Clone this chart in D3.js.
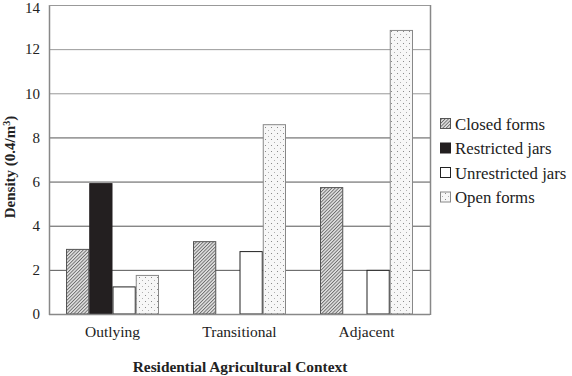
<!DOCTYPE html>
<html><head><meta charset="utf-8">
<script src="https://cdn.jsdelivr.net/npm/d3@7"></script>
<style>body{margin:0;background:#fff}svg{display:block;font-family:"Liberation Serif","DejaVu Serif",serif}</style>
</head><body>
<svg id="c" width="572" height="376"></svg>
<script>
const categories = ["Outlying", "Transitional", "Adjacent"];
const seriesNames = ["Closed forms", "Restricted jars", "Unrestricted jars", "Open forms"];
const closedForms = [2.95, 3.3, 5.75];
const restrictedJars = [5.93, 0, 0];
const unrestrictedJars = [1.25, 2.85, 2.0];
const openForms = [1.77, 8.6, 12.87];
const yTicks = [0, 2, 4, 6, 8, 10, 12, 14];
const seriesValues = [closedForms, restrictedJars, unrestrictedJars, openForms];

const svg = d3.select("#c");
const m = {l: 49, r: 430, t: 5, b: 314};
const defs = svg.append("defs");
const hatch = defs.append("pattern").attr("id","hatch").attr("patternUnits","userSpaceOnUse")
  .attr("width",2.4).attr("height",2.4).attr("patternTransform","rotate(45)");
hatch.append("rect").attr("width",2.4).attr("height",2.4).attr("fill","#e2e2e2");
hatch.append("rect").attr("width",0.9).attr("height",2.4).attr("fill","#6a6a6a");
const dots = defs.append("pattern").attr("id","dots").attr("patternUnits","userSpaceOnUse")
  .attr("width",6).attr("height",6);
dots.append("rect").attr("width",6).attr("height",6).attr("fill","#f7f7f7");
dots.append("rect").attr("x",1).attr("y",1).attr("width",1).attr("height",1).attr("fill","#8a8a8a");
dots.append("rect").attr("x",4).attr("y",4).attr("width",1).attr("height",1).attr("fill","#b0b0b0");

const fills = ["url(#hatch)", "#231f20", "#fff", "url(#dots)"];
const strokes = ["#555", "#231f20", "#222", "#888"];

const x0 = d3.scaleBand().domain(categories).range([m.l, m.r]).paddingInner(0).paddingOuter(0);
const x1 = d3.scaleBand().domain(seriesNames).range([17, x0.bandwidth()-17]);
const y = d3.scaleLinear().domain([0, 14]).range([m.b, m.t]);

// gridlines
svg.append("g").selectAll("line").data(yTicks.filter(d=>d>0)).join("line")
  .attr("x1", m.l).attr("x2", m.r).attr("y1", d=>y(d)+0.5).attr("y2", d=>y(d)+0.5)
  .attr("stroke", d=>d>=10?"#999":"#555").attr("stroke-width",1);

// bars
const g = svg.append("g");
categories.forEach((c, i) => {
  seriesNames.forEach((s, j) => {
    const v = seriesValues[j][i];
    if (!v) return;
    g.append("rect").attr("x", x0(c)+x1(s)+0.5).attr("y", y(v)+0.5)
      .attr("width", x1.bandwidth()-1).attr("height", y(0)-y(v)-0.5)
      .attr("fill", fills[j]).attr("stroke", strokes[j]).attr("stroke-width",1);
  });
});

// frame
svg.append("line").attr("x1",m.l+0.5).attr("x2",m.l+0.5).attr("y1",m.t).attr("y2",m.b+1).attr("stroke","#888").attr("stroke-width",1.5);
svg.append("line").attr("x1",m.r+0.5).attr("x2",m.r+0.5).attr("y1",m.t).attr("y2",m.b+1).attr("stroke","#888").attr("stroke-width",1.5);
svg.append("line").attr("x1",m.l).attr("x2",m.r).attr("y1",m.b+0.5).attr("y2",m.b+0.5).attr("stroke","#888").attr("stroke-width",1.5);
svg.append("line").attr("x1",m.l).attr("x2",m.r).attr("y1",m.t+0.5).attr("y2",m.t+0.5).attr("stroke","#999").attr("stroke-width",1);

// y axis
const ya = d3.axisLeft(y).tickValues(yTicks).tickSize(0).tickPadding(9);
const yg = svg.append("g").attr("transform",`translate(${m.l},0)`).call(ya);
yg.select(".domain").remove();
yg.selectAll("text").attr("font-size",15).attr("fill","#222").attr("font-family","Liberation Serif, serif");
yg.selectAll(".tick").filter(d=>d===14).select("text").attr("dy","0.5em");

// x axis
const xa = d3.axisBottom(x0).tickSize(0).tickPadding(12);
const xg = svg.append("g").attr("transform",`translate(0,${m.b})`).call(xa);
xg.select(".domain").remove();
xg.selectAll("text").attr("font-size",15.5).attr("fill","#222").attr("font-family","Liberation Serif, serif");

// titles
svg.append("text").attr("x",240).attr("y",372).attr("text-anchor","middle")
  .attr("font-weight","bold").attr("font-size",15.4).attr("fill","#222").text("Residential Agricultural Context");
const yt = svg.append("text").attr("transform","translate(15,167) rotate(-90)").attr("text-anchor","middle")
  .attr("font-weight","bold").attr("font-size",15).attr("fill","#222");
yt.append("tspan").text("Density (0.4/m");
yt.append("tspan").attr("font-size",10).attr("dy",-5).text("3");
yt.append("tspan").attr("dy",5).text(")");

// legend
const lg = svg.append("g");
seriesNames.forEach((s, j) => {
  const yy = 124 + j*24.5;
  lg.append("rect").attr("x",440.5).attr("y",yy-5.5).attr("width",10).attr("height",10)
    .attr("fill",fills[j]).attr("stroke",strokes[j]);
  lg.append("text").attr("x",455).attr("y",yy+5.5).attr("font-size",16.8).attr("fill","#222").text(s);
});
</script>
</body></html>
